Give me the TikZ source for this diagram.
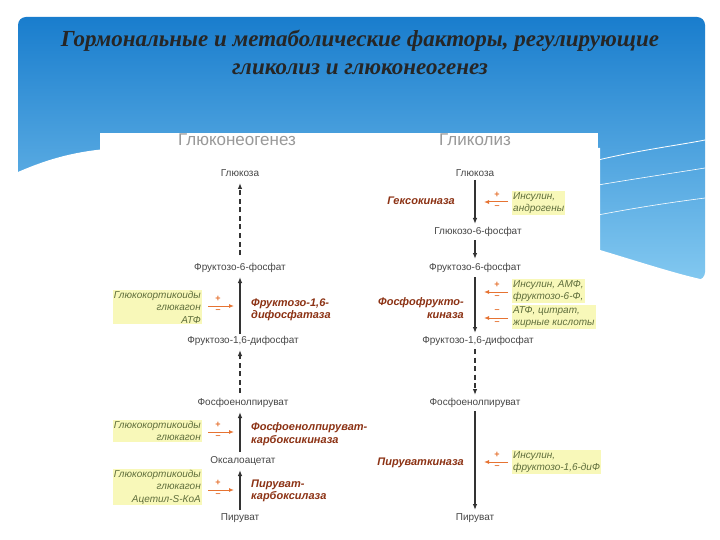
\documentclass[tikz,border=0pt]{standalone}
\usepackage{fontspec}
\setmainfont{Liberation Sans}
\newfontfamily\titlefont{Liberation Serif}
\usetikzlibrary{arrows.meta}
\definecolor{met}{RGB}{70,70,70}
\definecolor{enz}{RGB}{140,50,20}
\definecolor{eff}{RGB}{95,110,60}
\definecolor{hl}{RGB}{248,248,185}
\definecolor{org}{RGB}{230,115,50}
\definecolor{blueA}{RGB}{25,125,205}
\definecolor{blueB}{RGB}{130,200,240}
\tikzset{
 met/.style={font=\fontsize{10}{12}\selectfont, text=met, inner sep=1pt},
 hdr/.style={font=\fontsize{17}{19}\selectfont, text=gray!80, inner sep=1pt},
 enzl/.style={font=\fontsize{11}{12.5}\selectfont\bfseries\itshape, text=enz, align=left, inner sep=1pt},
 enzr/.style={enzl, align=right},
 effl/.style={font=\fontsize{10}{12.5}\selectfont\itshape, text=eff, fill=hl, align=left, inner sep=1pt},
 effr/.style={effl, align=right},
 path1/.style={-{Latex[length=6pt,width=4.5pt]}, line width=1.1pt, black!80},
 dpath/.style={path1, dash pattern=on 5pt off 3.5pt},
 reg/.style={-{Latex[length=5pt,width=4pt]}, line width=1pt, org},
 sgn/.style={font=\fontsize{9}{9}\selectfont\bfseries, text=org, inner sep=0pt},
}
\begin{document}
\begin{tikzpicture}[x=1pt,y=-1pt]
\useasboundingbox (0,0) rectangle (720,540);
\fill[white] (0,0) rectangle (720,540);
\shade[top color=blueA, bottom color=blueB, rounded corners=8pt] (18,17) rectangle (705,280);
\fill[white] (18,172) .. controls (50,158) and (80,150) .. (120,148) -- (600,148)
  -- (600,250) .. controls (640,262) and (680,275) .. (705,280) -- (705,540) -- (18,540) -- cycle;
\draw[white, line width=0.8pt] (598,160) .. controls (640,150) and (680,145) .. (705,140);
\draw[white, line width=0.6pt] (598,185) .. controls (640,178) and (680,172) .. (705,168);
\draw[white, line width=0.6pt] (598,215) .. controls (650,205) and (690,200) .. (705,198);
\fill[white] (100,133) rectangle (598,540);

\node[font=\titlefont\fontsize{23}{28}\selectfont\bfseries\itshape, text=black!85, align=center] (title) at (360,52)
 {Гормональные и метаболические факторы, регулирующие\\гликолиз и глюконеогенез};

% Gluconeogenesis
\node[hdr] (hg) at (237,140) {Глюконеогенез};
\node[met] (g1) at (240,173) {Глюкоза};
\node[met] (g2) at (240,268) {Фруктозо-6-фосфат};
\node[met] (g3) at (243,341) {Фруктозо-1,6-дифосфат};
\node[met] (g4) at (243,403) {Фосфоенолпируват};
\node[met] (g5) at (243,461) {Оксалоацетат};
\node[met] (g6) at (240,518) {Пируват};
\draw[dpath] (240,255) -- (240,183);
\draw[path1] (240,334) -- (240,277);
\draw[dpath] (240,393) -- (240,350);
\draw[path1] (240,452) -- (240,412);
\draw[path1] (240,510) -- (240,470);

\node[effr, anchor=east] (e1) at (202,307) {Глюкокортикоиды\\глюкагон\\АТФ};
\node[enzl, anchor=west] (z1) at (250,310) {Фруктозо-1,6-\\дифосфатаза};
\coordinate (a1s) at (208,306); \coordinate (a1e) at (234,306);
\draw[reg] (a1s) -- (a1e);
\node[sgn] (p1) at (218,299) {+}; \node[sgn] (m1) at (218,311) {–};

\node[effr, anchor=east] (e2) at (202,431) {Глюкокортикоиды\\глюкагон};
\node[enzl, anchor=west] (z2) at (250,434) {Фосфоенолпируват-\\карбоксикиназа};
\coordinate (a2s) at (208,432); \coordinate (a2e) at (234,432);
\draw[reg] (a2s) -- (a2e);
\node[sgn] (p2) at (218,425) {+}; \node[sgn] (m2) at (218,437) {–};

\node[effr, anchor=east] (e3) at (202,487) {Глюкокортикоиды\\глюкагон\\Ацетил-S-КоА};
\node[enzl, anchor=west] (z3) at (250,491) {Пируват-\\карбоксилаза};
\coordinate (a3s) at (208,490); \coordinate (a3e) at (234,490);
\draw[reg] (a3s) -- (a3e);
\node[sgn] (p3) at (218,483) {+}; \node[sgn] (m3) at (218,495) {–};

% Glycolysis
\node[hdr] (hk) at (475,140) {Гликолиз};
\node[met] (k1) at (475,173) {Глюкоза};
\node[met] (k2) at (478,232) {Глюкозо-6-фосфат};
\node[met] (k3) at (475,268) {Фруктозо-6-фосфат};
\node[met] (k4) at (478,341) {Фруктозо-1,6-дифосфат};
\node[met] (k5) at (475,403) {Фосфоенолпируват};
\node[met] (k6) at (475,518) {Пируват};
\draw[path1] (475,180) -- (475,224);
\draw[path1] (475,240) -- (475,259);
\draw[path1] (475,277) -- (475,333);
\draw[dpath] (475,349) -- (475,395);
\draw[path1] (475,411) -- (475,510);

\node[enzr, anchor=east] (y1) at (456,201) {Гексокиназа};
\node[effl, anchor=west] (f1) at (512,203) {Инсулин,\\андрогены};
\coordinate (b1s) at (508,202); \coordinate (b1e) at (484,202);
\draw[reg] (b1s) -- (b1e);
\node[sgn] (q1) at (497,195) {+}; \node[sgn] (n1) at (497,207) {–};

\node[enzr, anchor=east] (y2) at (465,308) {Фосфофрукто-\\киназа};
\node[effl, anchor=west] (f2) at (512,291) {Инсулин, АМФ,\\фруктозо-6-Ф,};
\node[effl, anchor=west] (f3) at (512,317) {АТФ, цитрат,\\жирные кислоты};
\coordinate (b2s) at (508,292); \coordinate (b2e) at (484,292);
\draw[reg] (b2s) -- (b2e);
\node[sgn] (q2) at (497,285) {+}; \node[sgn] (n2) at (497,297) {–};
\coordinate (b3s) at (508,318); \coordinate (b3e) at (484,318);
\draw[reg] (b3s) -- (b3e);
\node[sgn] (q3) at (497,311) {–}; \node[sgn] (n3) at (497,323) {–};

\node[enzr, anchor=east] (y3) at (465,463) {Пируваткиназа};
\node[effl, anchor=west] (f4) at (512,462) {Инсулин,\\фруктозо-1,6-диФ};
\coordinate (b4s) at (508,462); \coordinate (b4e) at (484,462);
\draw[reg] (b4s) -- (b4e);
\node[sgn] (q4) at (497,455) {+}; \node[sgn] (n4) at (497,467) {–};
\end{tikzpicture}
\end{document}
